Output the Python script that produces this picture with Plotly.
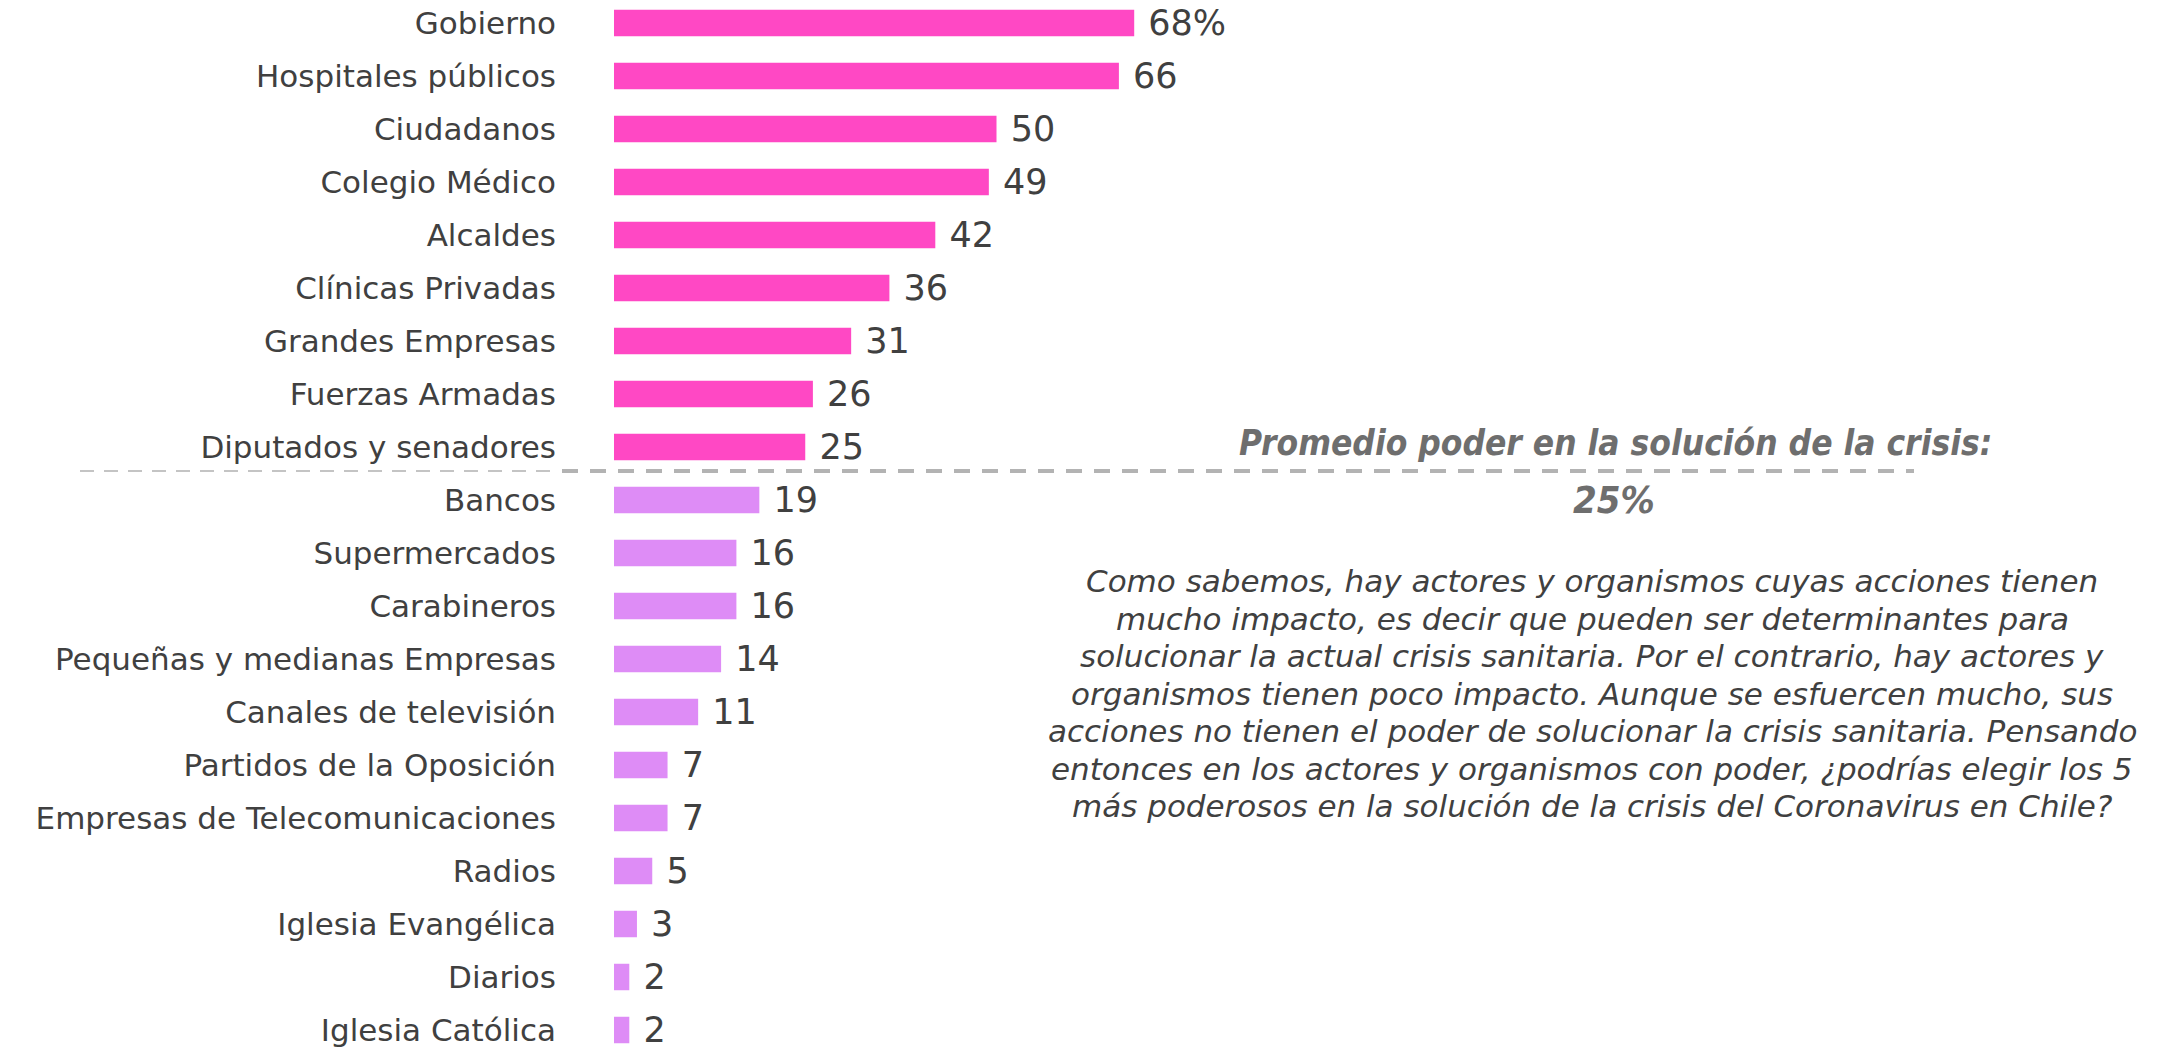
import plotly.graph_objects as go

# datos (% que elige al actor entre los 5 más poderosos)
actores_alto = ["Gobierno", "Hospitales públicos", "Ciudadanos", "Colegio Médico", "Alcaldes",
                "Clínicas Privadas", "Grandes Empresas", "Fuerzas Armadas", "Diputados y senadores"]
valores_alto = [68, 66, 50, 49, 42, 36, 31, 26, 25]

actores_bajo = ["Bancos", "Supermercados", "Carabineros", "Pequeñas y medianas Empresas",
                "Canales de televisión", "Partidos de la Oposición", "Empresas de Telecomunicaciones",
                "Radios", "Iglesia Evangélica", "Diarios", "Iglesia Católica"]
valores_bajo = [19, 16, 16, 14, 11, 7, 7, 5, 3, 2, 2]

promedio = 25

texto_pregunta = [
    "Como sabemos, hay actores y organismos cuyas acciones tienen",
    "mucho impacto, es decir que pueden ser determinantes para",
    "solucionar la actual crisis sanitaria. Por el contrario, hay actores y",
    "organismos tienen poco impacto. Aunque se esfuercen mucho, sus",
    "acciones no tienen el poder de solucionar la crisis sanitaria. Pensando",
    "entonces en los actores y organismos con poder, ¿podrías elegir los 5",
    "más poderosos en la solución de la crisis del Coronavirus en Chile?",
]

W, H = 2159, 1051
LEFT = 614   # inicio de las barras
PX_POR_UNIDAD = 7.65
FUENTE = "DejaVu Sans"
FUENTE_TIT = "DejaVu Sans Condensed, DejaVu Sans"
GRIS = "#404040"

categorias = actores_alto + actores_bajo


def px_x(xp):
    # pixel -> coordenada paper en x
    return (xp - LEFT) / (W - LEFT)


def px_y(yp):
    # pixel -> coordenada paper en y
    return 1 - yp / H


fig = go.Figure()
for cats, vals, color, pct in [(actores_alto, valores_alto, "#FF48C4", True),
                               (actores_bajo, valores_bajo, "#DE8CF6", False)]:
    fig.add_trace(go.Bar(
        y=cats, x=vals, orientation="h",
        marker=dict(color=color, line=dict(width=0)),
        text=[f" {v}%" if (pct and i == 0) else f" {v}" for i, v in enumerate(vals)],
        textposition="outside", cliponaxis=False, constraintext="none",
        textfont=dict(family=FUENTE, size=35, color=GRIS),
        hoverinfo="skip",
    ))

# línea de promedio (entre Diputados y Bancos)
y_linea = px_y(471)
fig.add_shape(type="line", xref="paper", yref="paper", x0=px_x(80), x1=px_x(558),
              y0=y_linea, y1=y_linea, line=dict(color="#C4C4C4", width=2, dash="14px,10px"))
fig.add_shape(type="line", xref="paper", yref="paper", x0=px_x(562), x1=px_x(1914),
              y0=y_linea, y1=y_linea, line=dict(color="#B3B3B3", width=4, dash="16px,12px"))

fig.add_annotation(
    xref="paper", yref="paper", x=px_x(1615), y=px_y(443),
    text="<b><i>Promedio poder en la solución de la crisis:</i></b>",
    showarrow=False, xanchor="center", yanchor="middle",
    font=dict(family=FUENTE_TIT, size=35, color="#6E6E6E"),
)
fig.add_annotation(
    xref="paper", yref="paper", x=px_x(1614), y=px_y(500),
    text=f"<b><i>{promedio}%</i></b>",
    showarrow=False, xanchor="center", yanchor="middle",
    font=dict(family=FUENTE_TIT, size=38, color="#6E6E6E"),
)
for i, linea in enumerate(texto_pregunta):
    fig.add_annotation(
        xref="paper", yref="paper", x=px_x(1592), y=px_y(581 + i * 37.5),
        text=f"<i>{linea}</i>",
        showarrow=False, xanchor="center", yanchor="middle",
        font=dict(family=FUENTE, size=31, color=GRIS),
    )

paso = 53
centro0 = 23
fig.update_layout(
    width=W, height=H,
    margin=dict(l=LEFT, r=0, t=0, b=0),
    paper_bgcolor="white", plot_bgcolor="white",
    showlegend=False, barmode="overlay", bargap=0.5,
    xaxis=dict(range=[0, (W - LEFT) / PX_POR_UNIDAD], visible=False, fixedrange=True),
    yaxis=dict(
        type="category", categoryorder="array", categoryarray=categorias,
        range=[(H - centro0) / paso, -centro0 / paso],
        showgrid=False, zeroline=False, showline=False, ticks="",
        ticklabelstandoff=57,
        tickfont=dict(family=FUENTE, size=31, color=GRIS),
        fixedrange=True,
    ),
)

# sin margen del <body> para que la figura ocupe toda la ventana
fig.write_html("out.html", config={"displayModeBar": False},
               post_script="document.body.style.margin='0';")
